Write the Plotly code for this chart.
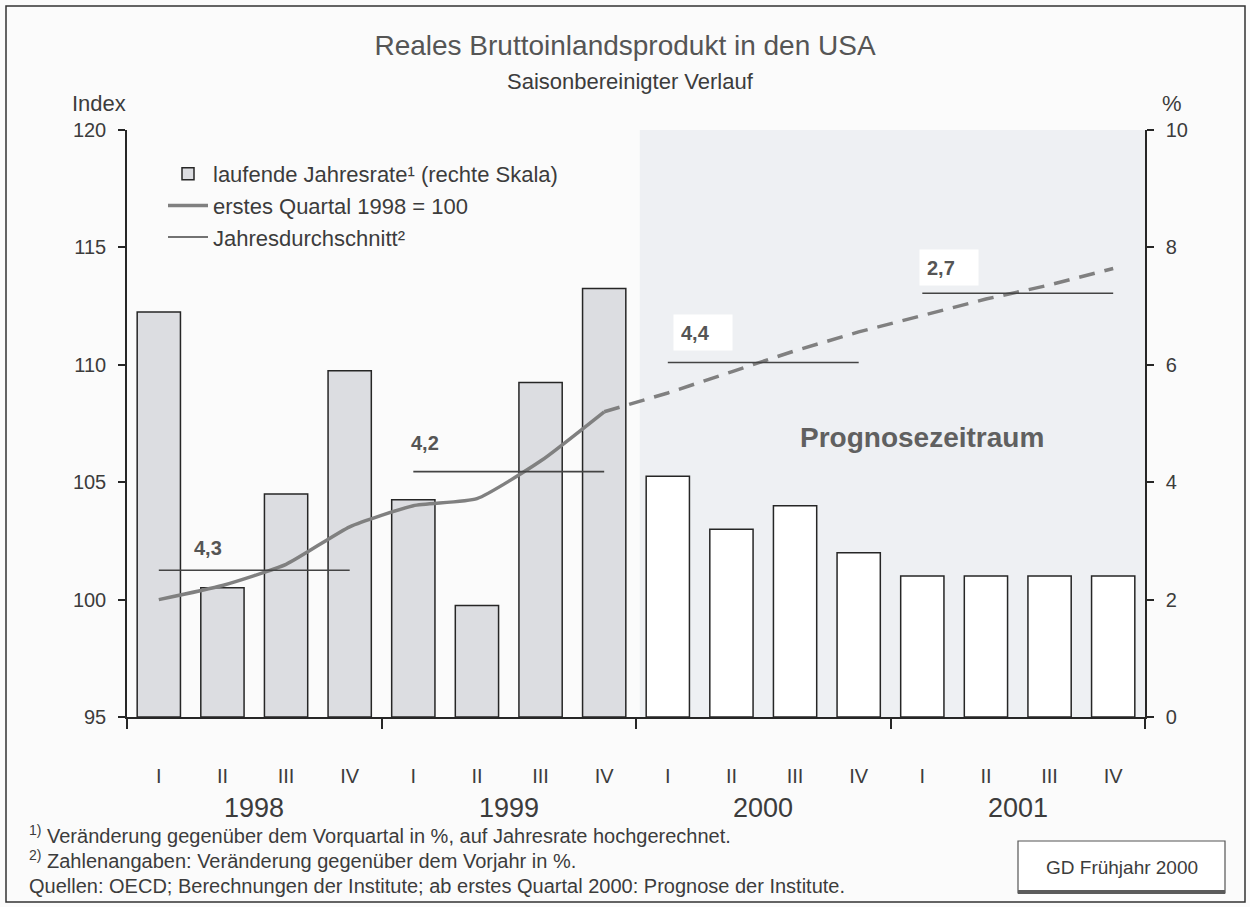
import plotly.graph_objects as go

# Quartale 1998 I bis 2001 IV
quarters = ['I', 'II', 'III', 'IV'] * 4
years = ['1998', '1999', '2000', '2001']

# laufende Jahresrate in % (rechte Skala)
growth = [6.9, 2.2, 3.8, 5.9, 3.7, 1.9, 5.7, 7.3,
          4.1, 3.2, 3.6, 2.8, 2.4, 2.4, 2.4, 2.4]

# Index, erstes Quartal 1998 = 100 (Ist bis 1999 IV, danach Prognose)
index_actual = [100.0, 100.6, 101.5, 103.1, 104.0, 104.3, 105.9, 108.0]
index_forecast = [108.0, 108.8, 109.7, 110.6, 111.4, 112.1, 112.8, 113.4, 114.1]

# Jahresdurchschnitt (Indexniveau) und Veraenderung gegenueber Vorjahr
annual_avg = [101.25, 105.45, 110.1, 113.05]
annual_change = ['4,3', '4,2', '4,4', '2,7']

first_forecast = 8  # erstes Quartal 2000

FONT = 'Liberation Sans, Arial, sans-serif'
TEXT = '#3c3c3c'
AXIS = '#262626'

# plot area in pixels (for placing the decorations around it)
W, H = 1250, 907
L, R, T, B = 127, 1145, 130, 717


def px(x):
    return (x - L) / (R - L)


def py(y):
    return (B - y) / (B - T)


def note(text, x, y, size, **kw):
    # paper-placed text, given in page pixels
    kw.setdefault('xanchor', 'center')
    fig.add_annotation(x=px(x), y=py(y), xref='paper', yref='paper',
                       text=text, showarrow=False, yanchor='middle',
                       font=dict(size=size, color=kw.pop('color', TEXT)), **kw)


x = list(range(len(growth)))
bar_colors = ['#dcdde1' if i < first_forecast else 'white' for i in x]

avg_x, avg_y = [], []
for k, v in enumerate(annual_avg):
    avg_x += [4 * k, 4 * k + 3, None]
    avg_y += [v, v, None]

fig = go.Figure()

fig.add_trace(go.Bar(
    x=x, y=growth,
    name='laufende Jahresrate¹ (rechte Skala)',
    marker=dict(color=bar_colors, line=dict(color=AXIS, width=1.5)),
    width=0.68,
    yaxis='y'
))
fig.add_trace(go.Scatter(
    x=x[:first_forecast], y=index_actual,
    name='erstes Quartal 1998 = 100',
    mode='lines',
    line=dict(color='#808080', width=3.5, shape='spline', smoothing=0.5),
    yaxis='y2'
))
fig.add_trace(go.Scatter(
    x=x[first_forecast - 1:], y=index_forecast,
    mode='lines', showlegend=False,
    line=dict(color='#808080', width=3.5, dash='16px,10px'),
    yaxis='y2'
))
fig.add_trace(go.Scatter(
    x=avg_x, y=avg_y,
    name='Jahresdurchschnitt²',
    mode='lines',
    line=dict(color='#444444', width=1.6),
    yaxis='y2'
))

# Prognosezeitraum shading
fig.add_shape(type='rect', xref='x', yref='paper',
              x0=first_forecast - 0.44, x1=len(x) - 0.5, y0=0, y1=1,
              fillcolor='#eef0f3', line_width=0, layer='below')

# year labels
for k, yr in enumerate(years):
    fig.add_annotation(x=4 * k + 1.5, y=py(808), xref='x', yref='paper',
                       text=yr, showarrow=False, yanchor='middle',
                       font=dict(size=27, color=TEXT))

# annual change labels
label_dx = [34, -3, 5, -3]
label_dy = [22, 29, 30, 26]
for k, txt in enumerate(annual_change):
    forecast = 4 * k >= first_forecast
    fig.add_annotation(
        x=4 * k, y=annual_avg[k], xref='x', yref='y2',
        text='<b>' + txt + '</b>', showarrow=False,
        xanchor='left', yanchor='middle',
        xshift=label_dx[k], yshift=label_dy[k],
        font=dict(size=20, color='#555555'),
        bgcolor='white' if forecast else 'rgba(0,0,0,0)',
        borderpad=7 if forecast else 0,
        width=44 if forecast else None,
        height=21 if forecast else None,
        align='left'
    )

fig.add_annotation(x=12, y=106.9, xref='x', yref='y2',
                   text='<b>Prognosezeitraum</b>', showarrow=False,
                   yanchor='middle',
                   font=dict(size=28, color='#606060'))

# subtitle and axis captions
note('Saisonbereinigter Verlauf', 630, 81, 22)
note('Index', 99, 103, 22)
note('%', 1172, 103, 22)

# footnotes
notes = [
    '<sup>1)</sup> Veränderung gegenüber dem Vorquartal in %, auf Jahresrate hochgerechnet.',
    '<sup>2)</sup> Zahlenangaben: Veränderung gegenüber dem Vorjahr in %.',
    'Quellen: OECD; Berechnungen der Institute; ab erstes Quartal 2000: Prognose der Institute.',
]
for txt, ypix in zip(notes, [834, 859, 886]):
    note(txt, 27, ypix, 20, xanchor='left')

# GD box
fig.add_shape(type='rect', xref='paper', yref='paper',
              x0=px(1018), x1=px(1225), y0=py(893), y1=py(841),
              line=dict(color='#555555', width=1.2), fillcolor='white')
fig.add_shape(type='line', xref='paper', yref='paper',
              x0=px(1018), x1=px(1225), y0=py(892), y1=py(892),
              line=dict(color='#5a5a5a', width=4))
note('GD Frühjahr 2000', 1122, 867, 19)

# outer frame
fig.add_shape(type='rect', xref='paper', yref='paper',
              x0=px(6), x1=px(1245), y0=py(902), y1=py(6),
              line=dict(color='#333333', width=1.5), layer='below')

fig.update_layout(
    width=W, height=H,
    margin=dict(l=L, r=W - R, t=T, b=H - B),
    paper_bgcolor='#fbfbfb',
    plot_bgcolor='rgba(0,0,0,0)',
    font=dict(family=FONT, color=TEXT),
    title=dict(text='Reales Bruttoinlandsprodukt in den USA',
               x=0.5, xref='container', y=1 - 45 / H, yref='container',
               xanchor='center', yanchor='middle',
               font=dict(size=28, color='#555555')),
    showlegend=True,
    legend=dict(x=px(163), y=py(153), xanchor='left', yanchor='top',
                bgcolor='rgba(0,0,0,0)', font=dict(size=22, color=TEXT),
                itemwidth=40),
    xaxis=dict(range=[-0.5, len(x) - 0.5], tickvals=x, ticktext=quarters,
               ticks='', ticklabelstandoff=40, showline=True,
               linecolor=AXIS, linewidth=1.5, showgrid=False, zeroline=False,
               tickfont=dict(size=20, color=TEXT),
               minor=dict(tickmode='array',
                          tickvals=[4 * k - 0.5 for k in range(len(years) + 1)],
                          ticks='outside', ticklen=10, tickwidth=1.5,
                          tickcolor=AXIS, showgrid=False)),
    yaxis=dict(side='right', range=[0, 10], dtick=2, ticks='outside',
               ticklen=7, tickwidth=1.5, tickcolor=AXIS, showline=True,
               linecolor=AXIS, linewidth=1.5, showgrid=False, zeroline=False,
               ticklabelstandoff=8, tickfont=dict(size=20, color=TEXT)),
    yaxis2=dict(side='left', overlaying='y', range=[95, 120], dtick=5,
                ticks='outside', ticklen=7, tickwidth=1.5, tickcolor=AXIS,
                showline=True, linecolor=AXIS, linewidth=1.5, showgrid=False,
                zeroline=False, ticklabelstandoff=8,
                tickfont=dict(size=20, color=TEXT)),
)

# the page's default body margin would shift the figure by 8px
fig.write_html('out.html', config={'displayModeBar': False},
               post_script="document.body.style.margin='0';"
                           "document.body.style.overflow='hidden';")
